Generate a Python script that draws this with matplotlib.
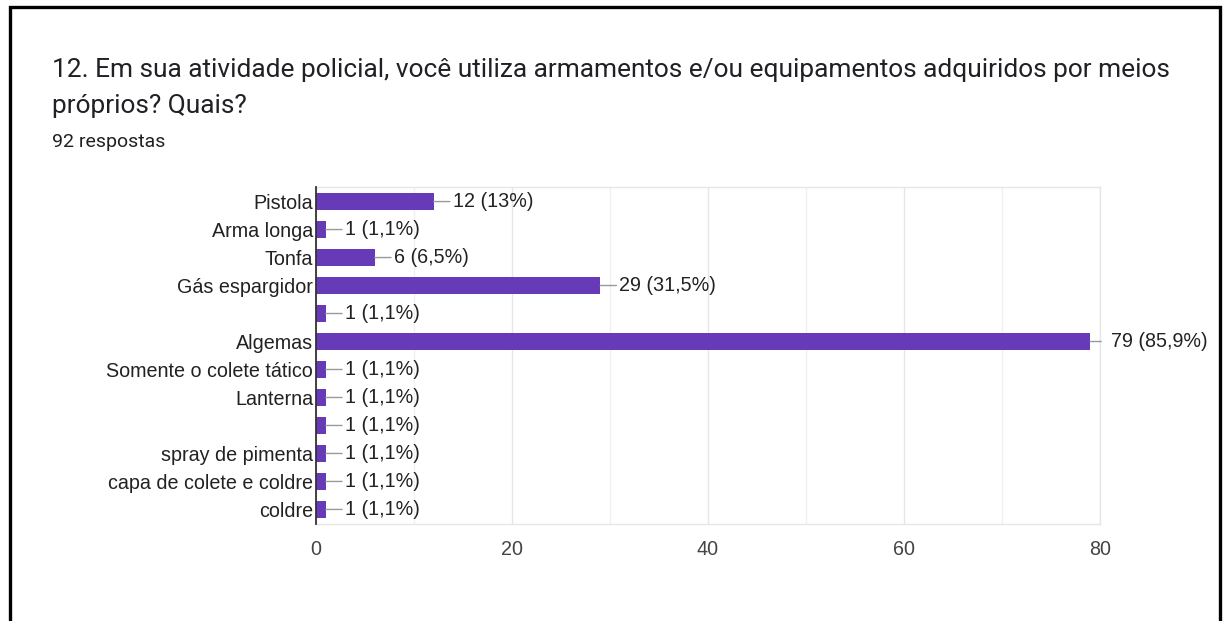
import matplotlib
matplotlib.use("Agg")
import matplotlib.pyplot as plt
from matplotlib.patches import Rectangle
from matplotlib.ticker import MultipleLocator

plt.rcParams['font.family'] = ['Roboto', 'DejaVu Sans']

title_lines = ["12. Em sua atividade policial, você utiliza armamentos e/ou equipamentos adquiridos por meios",
               "próprios? Quais?"]
subtitle = "92 respostas"

categories = ["Pistola", "Arma longa", "Tonfa", "Gás espargidor", "", "Algemas",
              "Somente o colete tático", "Lanterna", "", "spray de pimenta",
              "capa de colete e coldre", "coldre"]
counts = [12, 1, 6, 29, 1, 79, 1, 1, 1, 1, 1, 1]
percent_labels = ["13%", "1,1%", "6,5%", "31,5%", "1,1%", "85,9%",
                  "1,1%", "1,1%", "1,1%", "1,1%", "1,1%", "1,1%"]
xticks = [0, 20, 40, 60, 80]

W, H, DPI = 1224, 621, 100
fig = plt.figure(figsize=(W / DPI, H / DPI), dpi=DPI)
fig.patch.set_facecolor("white")

# outer card border
fig.add_artist(Rectangle((10 / W, -0.05), (1220 - 10) / W, 1.05 - 7 / H,
                         transform=fig.transFigure, fill=False,
                         edgecolor="black", linewidth=2.4))

for line, yc in zip(title_lines, (70, 106)):
    fig.text(52 / W, 1 - yc / H, line, fontsize=18.9, color="#202124",
             ha="left", va="center")
fig.text(52 / W, 1 - 142 / H, subtitle, fontsize=14.0, color="#202124",
         ha="left", va="center")

chart_font = ['Liberation Sans', 'DejaVu Sans']
fs = 14.2

x0, x1 = 316, 1100
y0, y1 = 187, 524
ax = fig.add_axes([x0 / W, 1 - y1 / H, (x1 - x0) / W, (y1 - y0) / H])

ypos = list(range(len(categories)))
ax.barh(ypos, counts, height=0.62, color="#673AB7", zorder=3)
ax.set_ylim(len(categories) - 0.48, -0.52)
ax.set_xlim(0, 80)

ax.set_yticks(ypos)
ax.set_yticklabels(categories, fontsize=fs, color="#222222", family=chart_font)
ax.set_xticks(xticks)
ax.set_xticklabels([str(t) for t in xticks], fontsize=fs, color="#444444",
                   family=chart_font)
ax.xaxis.set_minor_locator(MultipleLocator(10))
ax.tick_params(axis="both", which="both", length=0)
ax.tick_params(axis="y", pad=2)
ax.tick_params(axis="x", pad=11.5)

ax.grid(axis="x", which="major", color="#e6e6e6", linewidth=1.0, zorder=0)
ax.grid(axis="x", which="minor", color="#f0f0f0", linewidth=1.0, zorder=0)
for side in ("top", "right", "bottom"):
    ax.spines[side].set_color("#e6e6e6")
    ax.spines[side].set_linewidth(1.0)
ax.spines["left"].set_color("#333333")
ax.spines["left"].set_linewidth(1.3)
ax.spines["left"].set_zorder(4)

px = 72 / DPI
for y, v, p in zip(ypos, counts, percent_labels):
    label = f"{v} ({p})"
    if v >= 76:
        # leader stops short of the label near the axis end
        ax.annotate("", xy=(v, y), xytext=(11 * px, 0), textcoords="offset points",
                    arrowprops=dict(arrowstyle="-", color="#999999", lw=1.0,
                                    shrinkA=0, shrinkB=0), zorder=4,
                    annotation_clip=False)
        ax.annotate(label, xy=(v, y), xytext=(21 * px, 0), textcoords="offset points",
                    ha="left", va="center", fontsize=fs, color="#222222",
                    family=chart_font, annotation_clip=False)
    else:
        ax.annotate(label, xy=(v, y), xytext=(19 * px, 0), textcoords="offset points",
                    ha="left", va="center", fontsize=fs, color="#222222",
                    family=chart_font,
                    arrowprops=dict(arrowstyle="-", color="#999999", lw=1.0,
                                    shrinkA=0, shrinkB=0, relpos=(0, 0.5)),
                    zorder=4, annotation_clip=False)

fig.savefig("out.png", dpi=DPI)
